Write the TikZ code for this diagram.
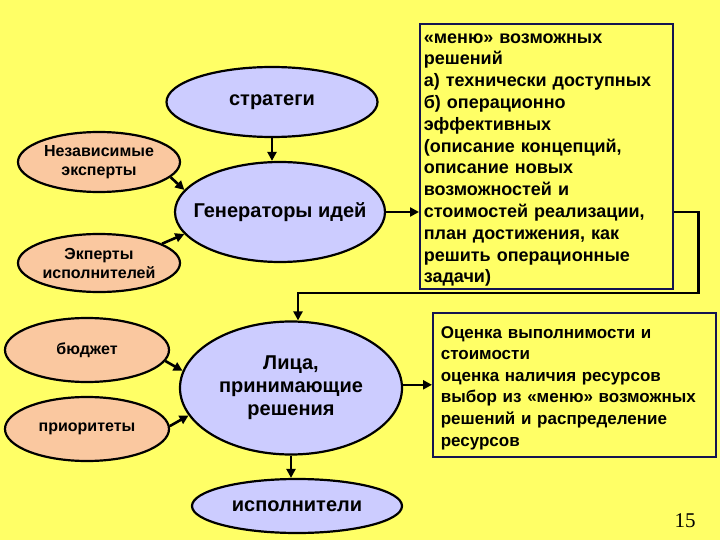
\documentclass[tikz,border=0pt]{standalone}
\usepackage{fontspec}
\setmainfont{Liberation Sans}
\newfontfamily\numfont{Liberation Serif}
\usetikzlibrary{arrows.meta, positioning, shapes.geometric}

\definecolor{slidebg}{RGB}{255,255,102}
\definecolor{peach}{RGB}{250,200,160}
\definecolor{lilac}{RGB}{204,204,255}
\definecolor{navy}{RGB}{20,20,80}

\begin{document}
\begin{tikzpicture}[x=1pt, y=-1pt,
    blob/.style={ellipse, draw=black, line width=2.2pt, inner sep=0pt},
    source/.style={blob, fill=peach},
    actor/.style={blob, fill=lilac},
    srctext/.style={align=center, font=\fontsize{16}{19}\selectfont\bfseries},
    acttext/.style={align=center, font=\fontsize{20}{23}\selectfont\bfseries},
    note/.style={draw=navy, line width=1.6pt, align=left, anchor=north west, inner ysep=0pt},
    link/.style={line width=2.6pt, -{Triangle[length=9pt, width=9pt]}}]
			% Draw the background
			\fill[slidebg] (0,0) rectangle (720,540);
			\useasboundingbox (0,0) rectangle (720,540);

			% Draw the ellipses
			\node[actor, minimum width=211, minimum height=70, label={[acttext]center:стратеги}] (strat) at (272,102) {};
			\node[actor, minimum width=210, minimum height=100, label={[acttext]center:Генераторы идей}] (gen) at (280,212) {};
			\node[source, minimum width=162, minimum height=60, label={[srctext]center:Независимые\\эксперты}] (indep) at (99,162) {};
			\node[source, minimum width=162, minimum height=58, label={[srctext]center:Экперты\\исполнителей}] (exec) at (99,263) {};
			\node[source, minimum width=164, minimum height=64, label={[srctext]center:бюджет}] (budget) at (87,350) {};
			\node[source, minimum width=164, minimum height=64, label={[srctext]center:приоритеты}] (prior) at (87,429) {};
			\node[actor, minimum width=222, minimum height=133, label={[acttext]center:Лица,\\принимающие\\решения}] (lica) at (291,388) {};
			\node[actor, minimum width=210, minimum height=54, label={[acttext]center:исполнители}] (isp) at (297,506) {};

			% Draw the text boxes
			\node[note, text width=245, inner xsep=4, minimum height=265,
			  font=\fontsize{18}{21.8}\selectfont\bfseries] (menu) at (419,23) {\rule{0pt}{17pt}«меню» возможных\\
			решений\\
			а) технически доступных\\
			б) операционно\\
			эффективных\\
			(описание концепций,\\
			описание новых\\
			возможностей и\\
			стоимостей реализации,\\
			план достижения, как\\
			решить операционные\\
			задачи)};
			\node[note, text width=267, inner xsep=8, minimum height=144,
			  font=\fontsize{17}{21.6}\selectfont\bfseries] (est) at (432,312) {\rule{0pt}{18pt}Оценка выполнимости и\\
			стоимости\\
			оценка наличия ресурсов\\
			выбор из «меню» возможных\\
			решений и распределение\\
			ресурсов};

			% Draw the arrows
			\draw[link] (strat.south) -- (strat.south |- gen.north);
			\draw[link] (indep.-12) -- (gen.167);
			\draw[link] (exec.17) -- (gen.193);
			\draw[link] (gen.east) -- (gen.east -| menu.west);
			\coordinate (drop) at (298,293);
			\draw[link] (gen.east -| menu.east) -- ++(25,0) |- (drop) -- (drop |- lica.north);
			\draw[link] (budget.-8) -- (lica.171);
			\draw[link] (prior.2) -- (lica.195);
			\draw[link] (lica.east |- est.west) -- (est.west);
			\draw[link] (lica.south) -- (lica.south |- isp.north);

			\node[font=\fontsize{21}{24}\selectfont\numfont] (page) at (685,521) {15};
		\end{tikzpicture}
\end{document}
